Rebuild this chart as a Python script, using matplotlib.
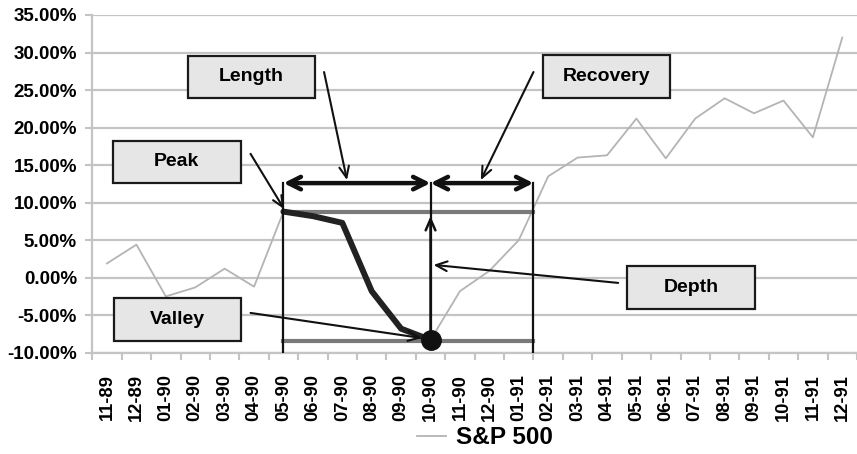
import numpy as np
import matplotlib
matplotlib.use("Agg")
import matplotlib.pyplot as plt

# monthly S&P 500 values (%)
months = ["11-89", "12-89", "01-90", "02-90", "03-90", "04-90", "05-90", "06-90",
          "07-90", "08-90", "09-90", "10-90", "11-90", "12-90", "01-91", "02-91",
          "03-91", "04-91", "05-91", "06-91", "07-91", "08-91", "09-91", "10-91",
          "11-91", "12-91"]
sp500 = [1.9, 4.4, -2.5, -1.3, 1.2, -1.2, 8.8, 8.2, 7.3, -1.8, -6.8, -8.3, -1.8,
         0.9, 5.0, 13.5, 16.0, 16.3, 21.2, 15.9, 21.2, 23.9, 21.9, 23.6, 18.7, 32.0]

# drawdown episode
peak_idx = 6
valley_idx = 11
recovery_x = 14.5
peak_val = 8.8
valley_val = -8.5
bracket_y = 12.6

plt.rcParams['font.family'] = ['Liberation Sans', 'DejaVu Sans']
plt.rcParams['font.weight'] = 'bold'

fig = plt.figure(figsize=(8.57, 4.54), dpi=100)
ax = fig.add_axes([92.3 / 857, 1 - 352.7 / 454, (857 - 92.3) / 857, (352.7 - 15) / 454])

x = np.arange(len(months))
grid_c = "#c4c4c4"
ax.set_xlim(-0.5, -0.5 + (857 - 92.3) / 29.5)
ax.set_ylim(-10, 35)
ax.set_yticks(np.arange(-10, 36, 5))
ax.set_yticklabels(["%.2f%%" % v for v in np.arange(-10, 36, 5)], fontsize=13.5, fontweight='bold')
ax.yaxis.grid(True, color=grid_c, lw=1.6)
ax.set_axisbelow(True)
ax.set_xticks(x)
ax.set_xticklabels(months, rotation=90, fontsize=13.2, fontweight='bold', va='top')
ax.set_xticks(np.arange(-0.5, len(months), 1), minor=True)
ax.tick_params(axis='x', which='major', length=0, pad=15.5)
ax.tick_params(axis='x', which='minor', length=5, color=grid_c, width=1.5)
ax.tick_params(axis='y', length=5, color=grid_c, width=1.5, pad=6)
for s in ['top', 'right']:
    ax.spines[s].set_visible(False)
for s in ['left', 'bottom']:
    ax.spines[s].set_color(grid_c)
    ax.spines[s].set_linewidth(1.6)

line, = ax.plot(x, sp500, color="#b4b4b4", lw=1.3, label="S&P 500")

# peak and valley levels
ax.plot([peak_idx, recovery_x], [peak_val, peak_val], color="#7a7a7a", lw=3, zorder=3)
ax.plot([peak_idx, recovery_x], [valley_val, valley_val], color="#7a7a7a", lw=3, zorder=3)

# drawdown segment
seg = slice(peak_idx, valley_idx + 1)
ax.plot(x[seg], sp500[seg], color="#222222", lw=4.3, solid_capstyle='round',
        solid_joinstyle='round', zorder=4)
ax.plot(valley_idx, sp500[valley_idx], 'o', color="#111111", ms=14, zorder=6)

# bracket verticals
ax.plot([peak_idx, peak_idx], [-10, bracket_y], color="#111111", lw=1.6, zorder=4)
ax.plot([recovery_x, recovery_x], [-10, bracket_y], color="#111111", lw=1.6, zorder=4)
ax.plot([valley_idx, valley_idx], [sp500[valley_idx], bracket_y], color="#111111", lw=1.6, zorder=4)
ax.annotate("", xy=(valley_idx, 8.2), xytext=(valley_idx, sp500[valley_idx]),
            arrowprops=dict(arrowstyle="->,head_length=0.8,head_width=0.35", color="#111111",
                            lw=1.8, shrinkA=0, shrinkB=0),
            zorder=5)

# length / recovery double arrows
for a, b in [(peak_idx, valley_idx), (valley_idx, recovery_x)]:
    ax.annotate("", xy=(b, bracket_y), xytext=(a, bracket_y),
                arrowprops=dict(arrowstyle="<->,head_length=0.9,head_width=0.45",
                                color="#111111", lw=3.2, shrinkA=0, shrinkB=0), zorder=5)

# label boxes and pointers
labels = [
    ("Length", (2.75, 23.9), (7.38, 27.4), (8.16, 13.0)),
    ("Peak", (0.21, 12.57), (4.88, 16.5), (6.03, 9.1)),
    ("Valley", (0.24, -8.44), (4.88, -4.7), (10.7, -8.05)),
    ("Recovery", (14.81, 23.94), (14.5, 27.4), (12.71, 13.0)),
    ("Depth", (17.69, -4.18), (17.38, -0.7), (11.1, 1.7)),
]
bw, bh = 4.33, 5.7
for txt, (bx, by), p0, p1 in labels:
    ax.add_patch(plt.Rectangle((bx, by), bw, bh, fc="#e6e6e6", ec="#1a1a1a", lw=1.6, zorder=7))
    ax.text(bx + bw / 2, by + bh / 2, txt, ha='center', va='center',
            fontsize=14, fontweight='bold', zorder=8)
    ax.annotate("", xy=p1, xytext=p0,
                arrowprops=dict(arrowstyle="->,head_length=0.8,head_width=0.35",
                                color="#111111", lw=1.5, shrinkA=0, shrinkB=0), zorder=6)

fig.legend(handles=[line], labels=["S&P 500"], loc='center',
           bbox_to_anchor=(485 / 857, 1 - 438 / 454), frameon=False,
           prop=dict(size=17.5, weight='bold'), handlelength=1.2, handletextpad=0.4)

fig.savefig("out.png", dpi=100)
